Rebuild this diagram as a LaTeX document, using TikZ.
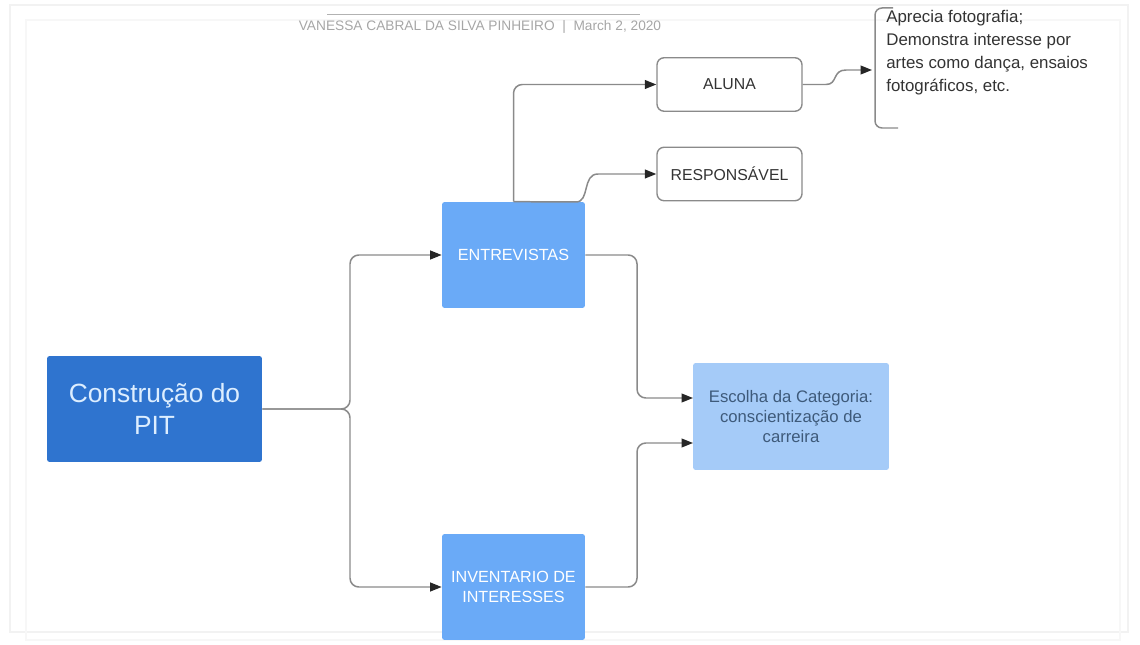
\documentclass[tikz,border=0pt]{standalone}
\usepackage{fontspec}
\setmainfont{Liberation Sans}
\usetikzlibrary{arrows.meta,calc}
\definecolor{pitblue}{HTML}{2F74CF}
\definecolor{midblue}{HTML}{6AAAF7}
\definecolor{lightblue}{HTML}{A5CBF8}
\definecolor{linegray}{HTML}{8A8A8A}
\definecolor{txtdark}{HTML}{333333}
\definecolor{esctxt}{HTML}{3E5A7A}
\definecolor{pittxt}{HTML}{DDEEFF}
\tikzset{
  bluebox/.style={draw=none, rounded corners=1.5pt, inner sep=0pt, align=center},
  whitebox/.style={draw=linegray, line width=0.8pt, fill=white, rounded corners=4pt, inner sep=0pt,
    minimum width=2.9cm, minimum height=1.07cm, text=txtdark, font=\fontsize{9}{10}\selectfont},
  conn/.style={draw=linegray, line width=0.85pt, rounded corners=5pt,
    -{Triangle[length=6.5pt,width=5pt,color=black!85]}},
  connc/.style={draw=linegray, line width=0.85pt,
    -{Triangle[length=6.5pt,width=5pt,color=black!85]}},
}
\begin{document}
\begin{tikzpicture}[x=0.02cm,y=-0.02cm]
\useasboundingbox (0,0) rectangle (1140,645);
% faint page frame
\draw[black!5, line width=0.6pt] (10,5) rectangle (1128,632);
\draw[black!3, line width=0.6pt] (26,20) rectangle (1120,640);
% header
\draw[black!30, line width=0.5pt] (327,14) -- (640,14);
\node[text=black!35, font=\fontsize{7.8}{9}\selectfont, inner sep=0pt] (hdr) at (480,27)
  {VANESSA CABRAL DA SILVA PINHEIRO \ |\ \ March 2, 2020};
% boxes
\node[bluebox, fill=pitblue, minimum width=4.3cm, minimum height=2.12cm, text=pittxt,
  font=\fontsize{15}{18.5}\selectfont] (PIT) at (154.5,409) {Construção do\\PIT};
\node[bluebox, fill=midblue, minimum width=2.86cm, minimum height=2.12cm, text=white,
  font=\fontsize{9.2}{11.3}\selectfont] (ENT) at (513.5,255) {ENTREVISTAS};
\node[bluebox, fill=midblue, minimum width=2.86cm, minimum height=2.12cm, text=white,
  font=\fontsize{9.2}{11.3}\selectfont] (INV) at (513.5,587) {INVENTARIO DE\\INTERESSES};
\node[bluebox, fill=lightblue, minimum width=3.92cm, minimum height=2.14cm, text=esctxt,
  font=\fontsize{9.5}{11.4}\selectfont] (ESC) at (791,416.5)
  {Escolha da Categoria:\\conscientização de\\carreira};
\node[whitebox] (ALUNA) at (729.5,84.5) {ALUNA};
\node[whitebox] (RESP) at (729.5,174) {RESPONSÁVEL};
% annotation
\node[anchor=north west, inner sep=0pt, align=left, text=txtdark,
  font=\fontsize{9.6}{13}\selectfont] (NOTE) at (886,10)
  {Aprecia fotografia;\\Demonstra interesse por\\artes como dança, ensaios\\fotográficos, etc.};
\draw[linegray, line width=0.85pt, rounded corners=4pt] (893,8) -- (875,8) -- (875,128) -- (898,128);
\coordinate (brk) at (872,70);
\coordinate (escA) at (693,398);
\coordinate (escB) at (693,443);
% connectors
\draw[conn] (PIT.east) -- (350,409) |- (ENT.west);
\draw[conn] (PIT.east) -- (350,409) |- (INV.west);
\draw[conn] (ENT.north) |- (ALUNA.west);
\draw[connc] (ENT.north) -- (576,202) .. controls (590,202) and (582,174) .. (598,174) -- (RESP.west);
\draw[conn] (ENT.east) -| (637,398) -- (escA);
\draw[conn] (INV.east) -| (637,443) -- (escB);
\draw[connc] (ALUNA.east) -- (826,84.5) .. controls (838,84.5) and (832,70) .. (846,70) -- (brk);
\end{tikzpicture}
\end{document}
